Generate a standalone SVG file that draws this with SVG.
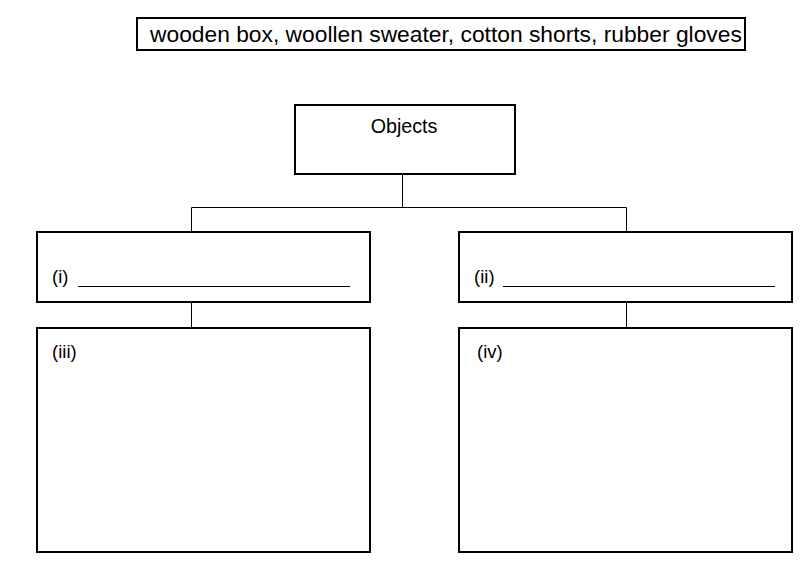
<svg xmlns="http://www.w3.org/2000/svg" width="807" height="569" viewBox="0 0 807 569">
<style>
.box{fill:#fff;stroke:#000;stroke-width:2}
.ln{fill:none;stroke:#000;stroke-width:1}
text{font-family:"Liberation Sans",Arial,sans-serif;fill:#000}
.big{font-size:22.8px}
.mid{font-size:19.7px}
.lbl{font-size:18.5px}
</style>
<rect width="807" height="569" fill="#fff"/>
<g id="connectors">
<path class="ln" d="M402.5 174V207.5M191.5 207.5H626.5M191.5 207.5V232M626.5 207.5V232M191.5 302V328M626.5 302V328"/>
</g>
<g id="wordbank">
<rect class="box" x="137" y="18" width="608" height="32"/>
<text class="big" x="150" y="42">wooden box, woollen sweater, cotton shorts, rubber gloves</text>
</g>
<g id="objects">
<rect class="box" x="295" y="105" width="220" height="69"/>
<text class="mid" x="404" y="133" text-anchor="middle">Objects</text>
</g>
<g id="i">
<rect class="box" x="37" y="232" width="333" height="70"/>
<text class="lbl" x="52" y="283">(i)</text>
<line class="ln" x1="78" y1="286.5" x2="350" y2="286.5"/>
</g>
<g id="ii">
<rect class="box" x="459" y="232" width="333" height="70"/>
<text class="lbl" x="474" y="283">(ii)</text>
<line class="ln" x1="503" y1="286.5" x2="775" y2="286.5"/>
</g>
<g id="iii">
<rect class="box" x="37" y="328" width="333" height="224"/>
<text class="lbl" x="52" y="358">(iii)</text>
</g>
<g id="iv">
<rect class="box" x="459" y="328" width="333" height="224"/>
<text class="lbl" x="477" y="358">(iv)</text>
</g>
</svg>
